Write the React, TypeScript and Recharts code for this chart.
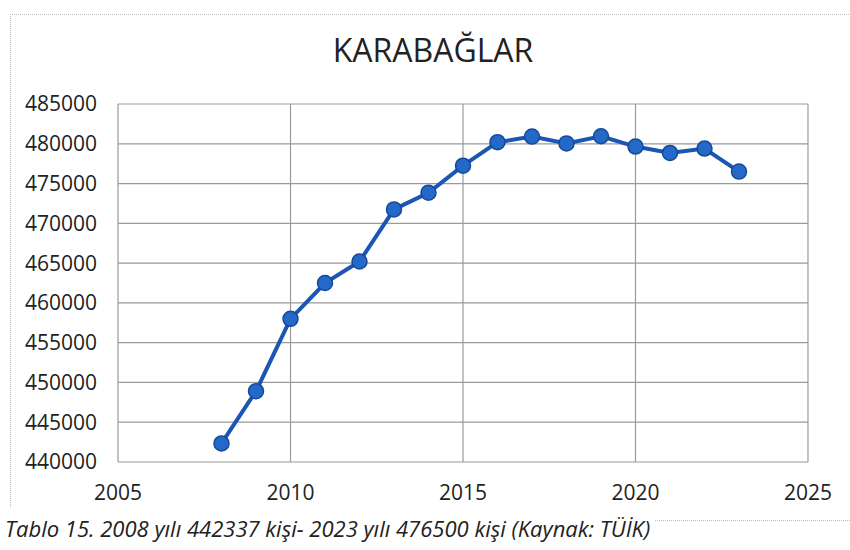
import { CartesianGrid, Line, LineChart, XAxis, YAxis } from "recharts";

const years = [2008, 2009, 2010, 2011, 2012, 2013, 2014, 2015, 2016, 2017, 2018, 2019, 2020, 2021, 2022, 2023];
const population = [442337, 448900, 458000, 462500, 465200, 471750, 473850, 477250, 480200, 480900, 480050, 480950, 479650, 478850, 479400, 476500];
const xTicks = [2005, 2010, 2015, 2020, 2025];
const yTicks = [440000, 445000, 450000, 455000, 460000, 465000, 470000, 475000, 480000, 485000];

const title = "KARABAĞLAR";
const caption = "Tablo 15. 2008 yılı 442337 kişi- 2023 yılı 476500 kişi (Kaynak: TÜİK)";

const data = years.map((year, i) => ({ year, value: population[i] }));

const font = "'Open Sans', 'DejaVu Sans', sans-serif";

const App = () => {
  return (
    <div
      style={{
        position: "absolute",
        left: 0,
        top: 0,
        width: 850,
        height: 550,
        background: "#fff",
        fontFamily: font,
        overflow: "hidden",
      }}
    >
      {/* faint scan frame */}
      <div
        style={{
          position: "absolute",
          left: 10,
          top: 14,
          width: 840,
          height: 492,
          borderTop: "1px dotted #bbb",
          borderLeft: "1px dotted #bbb",
        }}
      />
      <div
        style={{
          position: "absolute",
          left: 655,
          top: 520,
          width: 195,
          borderTop: "1px dotted #bbb",
        }}
      />
      <div
        style={{
          position: "absolute",
          left: 0,
          top: 29,
          width: 866,
          textAlign: "center",
          fontSize: 32,
          color: "#222",
          lineHeight: "42px",
        }}
      >
        {title}
      </div>
      <div style={{ position: "absolute", left: 0, top: 0 }}>
        <LineChart width={850} height={550} data={data} margin={{ top: 104, right: 42, bottom: 48, left: 0 }}>
          <CartesianGrid stroke="#9a9a9a" strokeWidth={1.2} horizontalValues={yTicks} verticalValues={xTicks} />
          <XAxis
            dataKey="year"
            type="number"
            domain={[2005, 2025]}
            ticks={xTicks}
            height={40}
            axisLine={false}
            tickLine={false}
            tickSize={0}
            tickMargin={23}
            tick={{ fill: "#222", fontSize: 21, fontFamily: font }}
          />
          <YAxis
            type="number"
            domain={[440000, 485000]}
            ticks={yTicks}
            width={118}
            axisLine={false}
            tickLine={false}
            tickSize={0}
            tickMargin={21}
            interval={0}
            tick={{ fill: "#222", fontSize: 21, fontFamily: font }}
          />
          <Line
            dataKey="value"
            type="linear"
            stroke="#1a56b4"
            strokeWidth={4}
            dot={{ r: 7.5, fill: "#2468c8", stroke: "#17499a", strokeWidth: 1.5 }}
            isAnimationActive={false}
          />
        </LineChart>
      </div>
      <div
        style={{
          position: "absolute",
          left: 5,
          top: 513,
          fontSize: 22,
          fontStyle: "italic",
          color: "#222",
          whiteSpace: "nowrap",
          lineHeight: "30px",
        }}
      >
        {caption}
      </div>
    </div>
  );
};

export default App;
